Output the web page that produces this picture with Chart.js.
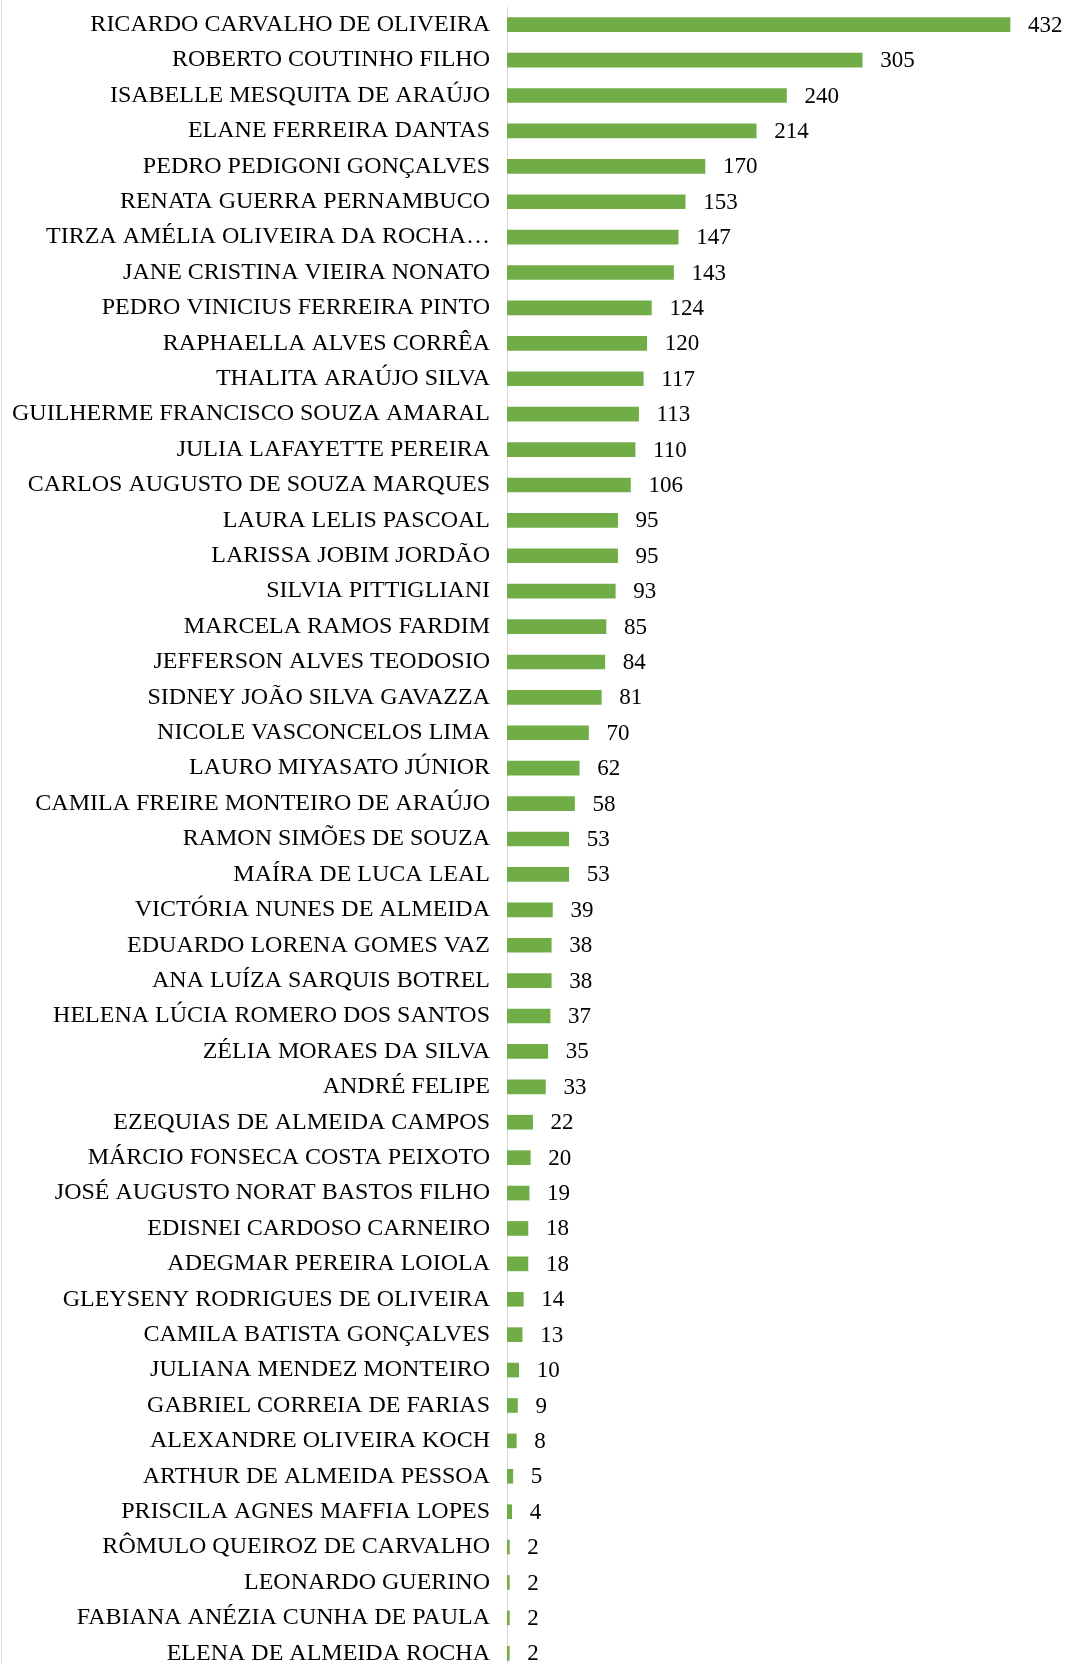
<!DOCTYPE html>
<html>
<head>
<meta charset="utf-8">
<script src="https://cdn.jsdelivr.net/npm/chart.js@4/dist/chart.umd.min.js"></script>
<style>
  body { margin: 0; background: #fff; overflow: hidden; }
  #wrap { position: relative; width: 1065px; height: 1664px; overflow: hidden; }
  #wrap::before { content: ""; position: absolute; left: 1px; top: 0; bottom: 0; width: 1px; background: #d9d9d9; }
</style>
</head>
<body>
<div id="wrap"><canvas id="myGraph" width="1065" height="1680"></canvas></div>
<script>
const names = [
  "RICARDO CARVALHO DE OLIVEIRA", "ROBERTO COUTINHO FILHO", "ISABELLE MESQUITA DE ARAÚJO",
  "ELANE FERREIRA DANTAS", "PEDRO PEDIGONI GONÇALVES", "RENATA GUERRA PERNAMBUCO",
  "TIRZA AMÉLIA OLIVEIRA DA ROCHA…", "JANE CRISTINA VIEIRA NONATO", "PEDRO VINICIUS FERREIRA PINTO",
  "RAPHAELLA ALVES CORRÊA", "THALITA ARAÚJO SILVA", "GUILHERME FRANCISCO SOUZA AMARAL",
  "JULIA LAFAYETTE PEREIRA", "CARLOS AUGUSTO DE SOUZA MARQUES", "LAURA LELIS PASCOAL",
  "LARISSA JOBIM JORDÃO", "SILVIA PITTIGLIANI", "MARCELA RAMOS FARDIM",
  "JEFFERSON ALVES TEODOSIO", "SIDNEY JOÃO SILVA GAVAZZA", "NICOLE VASCONCELOS LIMA",
  "LAURO MIYASATO JÚNIOR", "CAMILA FREIRE MONTEIRO DE ARAÚJO", "RAMON SIMÕES DE SOUZA",
  "MAÍRA DE LUCA LEAL", "VICTÓRIA NUNES DE ALMEIDA", "EDUARDO LORENA GOMES VAZ",
  "ANA LUÍZA SARQUIS BOTREL", "HELENA LÚCIA ROMERO DOS SANTOS", "ZÉLIA MORAES DA SILVA",
  "ANDRÉ FELIPE", "EZEQUIAS DE ALMEIDA CAMPOS", "MÁRCIO FONSECA COSTA PEIXOTO",
  "JOSÉ AUGUSTO NORAT BASTOS FILHO", "EDISNEI CARDOSO CARNEIRO", "ADEGMAR PEREIRA LOIOLA",
  "GLEYSENY RODRIGUES DE OLIVEIRA", "CAMILA BATISTA GONÇALVES", "JULIANA MENDEZ MONTEIRO",
  "GABRIEL CORREIA DE FARIAS", "ALEXANDRE OLIVEIRA KOCH", "ARTHUR DE ALMEIDA PESSOA",
  "PRISCILA AGNES MAFFIA LOPES", "RÔMULO QUEIROZ DE CARVALHO", "LEONARDO GUERINO",
  "FABIANA ANÉZIA CUNHA DE PAULA", "ELENA DE ALMEIDA ROCHA"
];
const counts = [
  432, 305, 240, 214, 170, 153, 147, 143, 124, 120, 117, 113, 110, 106, 95, 95,
  93, 85, 84, 81, 70, 62, 58, 53, 53, 39, 38, 38, 37, 35, 33, 22, 20, 19, 18, 18,
  14, 13, 10, 9, 8, 5, 4, 2, 2, 2, 2
];

const fontFamily = "'Liberation Serif', 'Times New Roman', serif";

const valueLabels = {
  id: "valueLabels",
  afterDatasetsDraw(chart) {
    const ctx = chart.ctx;
    const meta = chart.getDatasetMeta(0);
    ctx.save();
    ctx.font = "23px " + fontFamily;
    ctx.fillStyle = "#000000";
    ctx.textAlign = "left";
    ctx.textBaseline = "middle";
    meta.data.forEach((bar, i) => {
      ctx.fillText(String(counts[i]), bar.x + 18, bar.y + 1);
    });
    ctx.restore();
  },
};

new Chart(document.getElementById("myGraph"), {
  type: "bar",
  data: {
    labels: names,
    datasets: [
      {
        data: counts,
        backgroundColor: "#70AD47",
        borderWidth: 0,
        barThickness: 14,
      },
    ],
  },
  options: {
    indexAxis: "y",
    responsive: false,
    animation: false,
    layout: { padding: { top: 7, bottom: 9, left: 0, right: 34 } },
    plugins: {
      legend: { display: false },
      tooltip: { enabled: false },
    },
    scales: {
      x: {
        display: false,
        min: 0,
        max: 450,
      },
      y: {
        afterFit(scale) {
          scale.width = 507;
          scale.paddingTop = 0;
          scale.paddingBottom = 0;
        },
        grid: { display: false, drawTicks: false },
        border: { display: true, color: "#d9d9d9", width: 1 },
        ticks: {
          color: "#000000",
          padding: 17,
          autoSkip: false,
          font: { family: fontFamily, size: 24 },
        },
      },
    },
  },
  plugins: [valueLabels],
});
</script>
</body>
</html>
